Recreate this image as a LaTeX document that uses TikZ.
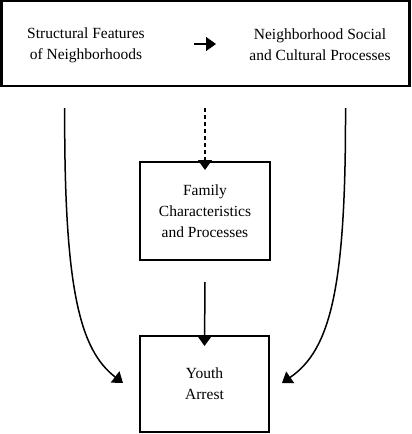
\documentclass[tikz,border=0pt]{standalone}
\usepackage{fontspec}
\setmainfont{Liberation Serif}
\usetikzlibrary{arrows.meta}
\begin{document}
\begin{tikzpicture}[x=1pt,y=-1pt,
  txt/.style={font=\fontsize{15.5}{21}\selectfont, align=center, inner sep=0pt},
  boxy/.style={draw, line width=2pt},
  conn/.style={line width=1.5pt, -{Triangle[width=14pt,length=10pt]}},
  dconn/.style={line width=1.2pt, dash pattern=on 4pt off 3pt, -{Triangle[width=14pt,length=10pt]}}]
\useasboundingbox (0,0) rectangle (412,434);
\node[boxy, line width=2.5pt, minimum width=408pt, minimum height=85pt, inner sep=0pt] (top) at (205.5,43.5) {};
\node[txt] (sf) at (86,45) {Structural Features\\of Neighborhoods};
\node[txt] (ns) at (320,45) {Neighborhood Social\\and Cultural Processes};
\coordinate (a1) at (194,44);
\coordinate (a2) at (216,44);
\draw[conn] (a1) -- (a2);
\node[boxy, minimum width=130pt, minimum height=98pt, inner sep=0pt] (fam) at (205,211) {};
\node[txt] (famt) at (205,211) {Family\\Characteristics\\and Processes};
\node[boxy, minimum width=129pt, minimum height=96pt, inner sep=0pt] (ya) at (204.5,384) {};
\node[txt] (yat) at (204.5,384) {Youth\\Arrest};
\coordinate (d1) at (205,108);
\draw[dconn] (d1) -- ([yshift=-9pt]fam.north);
\coordinate (s1) at (205,282);
\draw[conn] (s1) -- ([yshift=-11pt]ya.north);
\coordinate (l1) at (64.7,108);
\coordinate (r1) at (345.5,108);
\coordinate (lt) at (123,383);
\coordinate (rt) at (282,383);
\draw[conn] (l1) .. controls (64,290) and (80,350) .. (lt);
\draw[conn] (r1) .. controls (346,290) and (330,350) .. (rt);
\end{tikzpicture}
\end{document}
